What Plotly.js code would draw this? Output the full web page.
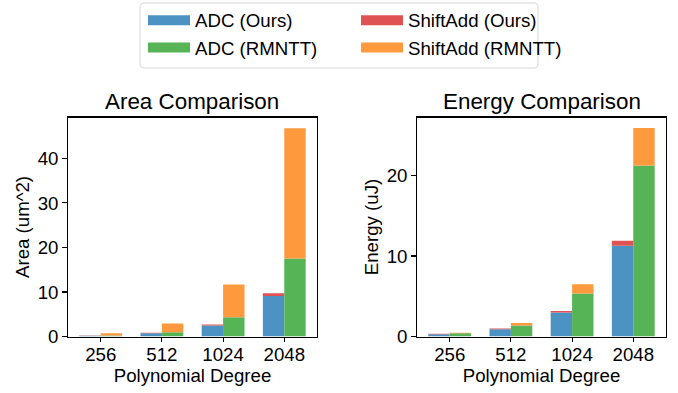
<!DOCTYPE html>
<html>
<head>
<meta charset="utf-8">
<script src="https://cdn.plot.ly/plotly-3.0.1.min.js"></script>
<style>html,body{margin:0;padding:0;background:#fff;}#chart{width:678px;height:393px;}</style>
</head>
<body>
<div id="chart"></div>
<script>
// ---- data ----
const degrees = ["256", "512", "1024", "2048"];
const positions = [0, 1, 2, 3];

const areaAdcOurs = [0.15, 0.74, 2.48, 9.1];
const areaShiftOurs = [0.07, 0.1, 0.22, 0.6];
const areaAdcRmntt = [0.22, 0.97, 4.35, 17.5];
const areaShiftRmntt = [0.52, 1.96, 7.35, 29.3];

const energyAdcOurs = [0.28, 0.9, 2.97, 11.27];
const energyShiftOurs = [0.05, 0.08, 0.21, 0.63];
const energyAdcRmntt = [0.41, 1.36, 5.34, 21.25];
const energyShiftRmntt = [0.05, 0.33, 1.16, 4.65];

const seriesNames = ["ADC (Ours)", "ShiftAdd (Ours)", "ADC (RMNTT)", "ShiftAdd (RMNTT)"];

// ---- styling ----
const W = 678, H = 393;
const FONT = "Liberation Sans, Arial, sans-serif";
const COLORS = ["#4c92c3", "#de5253", "#56b356", "#ff993e"];
const BW = 0.35;

function px(x) { return x / W; }
function py(y) { return 1 - y / H; }

function bars(xa, ya, adcO, shO, adcR, shR) {
  const common = {type: "bar", width: BW, xaxis: xa, yaxis: ya, showlegend: false, hoverinfo: "y"};
  return [
    Object.assign({}, common, {name: seriesNames[0], x: positions, y: adcO, offset: -BW,
      marker: {color: COLORS[0], line: {width: 0}}, legendgroup: "g0"}),
    Object.assign({}, common, {name: seriesNames[1], x: positions, y: shO, base: adcO.slice(), offset: -BW,
      marker: {color: COLORS[1], line: {width: 0}}, legendgroup: "g1"}),
    Object.assign({}, common, {name: seriesNames[2], x: positions, y: adcR, offset: 0,
      marker: {color: COLORS[2], line: {width: 0}}, legendgroup: "g2"}),
    Object.assign({}, common, {name: seriesNames[3], x: positions, y: shR, base: adcR.slice(), offset: 0,
      marker: {color: COLORS[3], line: {width: 0}}, legendgroup: "g3"})
  ];
}

// legend-only entries (wide swatches like the reference legend); they carry no data.
// Column 1 (legend): ADC entries; column 2 (legend2): ShiftAdd entries.
const legendOrder = [0, 2, 1, 3];
const legendEntries = legendOrder.map(i => ({
  type: "scatter", mode: "lines", name: seriesNames[i], x: [null], y: [null],
  line: {color: COLORS[i], width: 13}, legendgroup: "g" + i, showlegend: true,
  legend: (i === 0 || i === 2) ? "legend" : "legend2",
  xaxis: "x", yaxis: "y", hoverinfo: "skip"
}));

const data = [].concat(
  bars("x", "y", areaAdcOurs, areaShiftOurs, areaAdcRmntt, areaShiftRmntt),
  bars("x2", "y2", energyAdcOurs, energyShiftOurs, energyAdcRmntt, energyShiftRmntt),
  legendEntries
);

const tickFont = {family: FONT, size: 18.67, color: "#000"};
function xAxis(domain, anchor) {
  return {
    domain: domain, anchor: anchor, range: [-0.535, 3.535],
    tickmode: "array", tickvals: positions, ticktext: degrees,
    ticks: "outside", ticklen: 4.7, tickwidth: 1.07, tickcolor: "#000",
    ticklabelstandoff: -4,
    showline: true, linecolor: "#000", linewidth: 1.07, mirror: true,
    showgrid: false, zeroline: false, tickfont: tickFont,
    title: {text: "Polynomial Degree", font: tickFont, standoff: 0},
    fixedrange: true
  };
}
function yAxis(domain, anchor, range, ticks, label, standoff) {
  return {
    domain: domain, anchor: anchor, range: range,
    tickmode: "array", tickvals: ticks,
    ticks: "outside", ticklen: 4.7, tickwidth: 1.07, tickcolor: "#000",
    showline: true, linecolor: "#000", linewidth: 1.07, mirror: true,
    showgrid: false, zeroline: false, tickfont: tickFont,
    title: {text: label, font: tickFont, standoff: standoff},
    fixedrange: true
  };
}

const yDom = [ (H - 336.5) / H, (H - 117.5) / H ];
const x1Dom = [px(68), px(317)];
const x2Dom = [px(417), px(666)];

// rounded legend frame (pixel geometry converted to paper)
function roundRect(x0, y0, x1, y1, r) {
  const P = (x, y) => px(x).toFixed(5) + "," + py(y).toFixed(5);
  return "M" + P(x0 + r, y0) + " L" + P(x1 - r, y0) + " Q" + P(x1, y0) + " " + P(x1, y0 + r) +
    " L" + P(x1, y1 - r) + " Q" + P(x1, y1) + " " + P(x1 - r, y1) +
    " L" + P(x0 + r, y1) + " Q" + P(x0, y1) + " " + P(x0, y1 - r) +
    " L" + P(x0, y0 + r) + " Q" + P(x0, y0) + " " + P(x0 + r, y0) + " Z";
}

function legendCfg(xPix) {
  return {
    orientation: "v", x: px(xPix), xanchor: "left", y: py(1.5), yanchor: "top",
    itemwidth: 42, tracegroupgap: 0,
    font: {family: FONT, size: 18.67, color: "#000"},
    bgcolor: "rgba(0,0,0,0)", borderwidth: 0, traceorder: "normal",
    itemclick: false, itemdoubleclick: false
  };
}

const layout = {
  width: W, height: H, autosize: false,
  margin: {l: 0, r: 0, t: 0, b: 0, pad: 0},
  paper_bgcolor: "#fff", plot_bgcolor: "#fff",
  font: {family: FONT, color: "#000"},
  barmode: "overlay",
  xaxis: xAxis(x1Dom, "y"),
  yaxis: yAxis(yDom, "x", [0, 49.2], [0, 10, 20, 30, 40], "Area (um^2)", 3),
  xaxis2: xAxis(x2Dom, "y2"),
  yaxis2: yAxis(yDom, "x2", [0, 27.2], [0, 10, 20], "Energy (uJ)", 3),
  showlegend: true,
  legend: legendCfg(143),
  legend2: legendCfg(356),
  shapes: [{
    type: "path", xref: "paper", yref: "paper", path: roundRect(140, 3, 538, 68, 4),
    line: {color: "#d6d6d6", width: 1}, fillcolor: "rgba(0,0,0,0)", layer: "below"
  }],
  annotations: [
    {text: "Area Comparison", xref: "paper", yref: "paper", x: (x1Dom[0] + x1Dom[1]) / 2, y: yDom[1],
     xanchor: "center", yanchor: "bottom", yshift: 2, showarrow: false,
     font: {family: FONT, size: 22.4, color: "#000"}},
    {text: "Energy Comparison", xref: "paper", yref: "paper", x: (x2Dom[0] + x2Dom[1]) / 2, y: yDom[1],
     xanchor: "center", yanchor: "bottom", yshift: 2, showarrow: false,
     font: {family: FONT, size: 22.4, color: "#000"}}
  ]
};

Plotly.newPlot("chart", data, layout, {displayModeBar: false, staticPlot: true});
</script>
</body>
</html>
